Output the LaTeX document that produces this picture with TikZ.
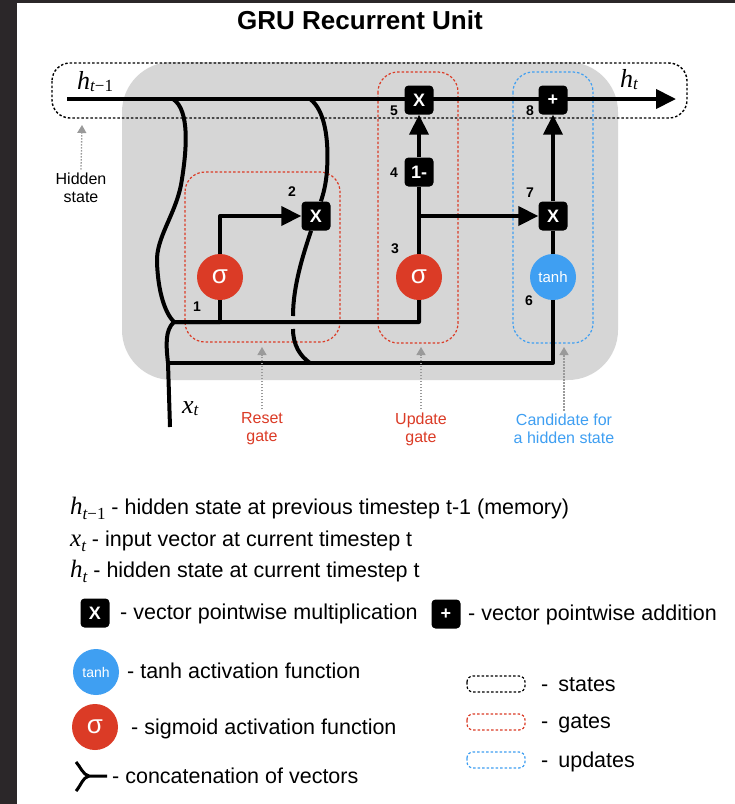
\documentclass[tikz,border=0pt]{standalone}
\usepackage{fontspec}
\setmainfont{Liberation Sans}
\newfontfamily\tms{Liberation Serif}
\usetikzlibrary{arrows.meta}
\pgfdeclarelayer{back}
\pgfdeclarelayer{wires}
\pgfsetlayers{back,wires,main}
\definecolor{framedark}{HTML}{2B2729}
\definecolor{unitgray}{HTML}{D6D6D6}
\definecolor{sigred}{HTML}{DB3B26}
\definecolor{tanhblue}{HTML}{3F9FF2}
\definecolor{guidegray}{HTML}{9A9A9A}
% italic serif symbol with a subscript: #1 size, #2 symbol, #3 subscript size, #4 subscript
\newcommand\symsub[4]{{\fontsize{#1}{#1}\selectfont\tms\itshape #2}\raisebox{-0.25em}{\fontsize{#3}{#3}\selectfont\tms #4}}

\begin{document}
\begin{tikzpicture}[x=1pt,y=-1pt,
  flow/.style={line width=4pt, line join=round},
  tip/.style={-{Triangle[length=20pt,width=19pt]}},
  opbox/.style={fill=black, rounded corners=4pt, minimum width=29pt, minimum height=29pt,
    inner sep=0pt, text=white, font=\fontsize{18}{18}\selectfont\bfseries},
  sigm/.style={circle, fill=sigred, minimum size=46pt, inner sep=0pt, text=white,
    font=\fontsize{26}{26}\selectfont},
  tanhc/.style={circle, fill=tanhblue, minimum size=46pt, inner sep=0pt, text=white,
    font=\fontsize{15}{15}\selectfont},
  stepnum/.style={font=\fontsize{14}{14}\selectfont\bfseries, inner sep=0pt},
  statebox/.style={draw=black, dash pattern=on 2.5pt off 2pt, line width=1.4pt, rounded corners=18pt},
  gatebox/.style={draw=sigred, dash pattern=on 2.5pt off 2pt, line width=1.2pt, rounded corners=20pt},
  updbox/.style={draw=tanhblue, dash pattern=on 2.5pt off 2pt, line width=1.2pt, rounded corners=20pt},
  guide/.style={draw=guidegray, dash pattern=on 1.5pt off 1.5pt, line width=1.3pt,
    -{Triangle[length=8pt,width=9pt,fill=guidegray]}},
  note/.style={font=\fontsize{16}{18}\selectfont, align=center},
  legend/.style={font=\fontsize{21.5}{24}\selectfont, anchor=base west, inner sep=0pt},
  mathlbl/.style={inner sep=0pt}
]
\useasboundingbox (0,0) rectangle (735,804);

% page, frame and unit background
\begin{pgfonlayer}{back}
  \fill[white] (0,0) rectangle (735,804);
  \fill[framedark] (0,0) rectangle (17,804);
  \fill[framedark] (0,0) rectangle (735,3);
  \fill[unitgray, rounded corners=50pt] (122,62) rectangle (618,380);
  \draw[statebox] (52,63) rectangle (687,118);
  \draw[gatebox] (185,172) rectangle (340,342);
  \draw[gatebox] (378,72) rectangle (458,343);
  \draw[updbox] (513,72) rectangle (593,343);
\end{pgfonlayer}

% title
\node[font=\fontsize{26}{26}\selectfont\bfseries] (title) at (360,20) {GRU Recurrent Unit};

% operations
\node[opbox] (m5) at (419,100) {X};
\node[opbox] (a8) at (553,100) {+};
\node[opbox] (om4) at (419,172) {1-};
\node[opbox] (m2) at (316,216) {X};
\node[opbox] (m7) at (553,216) {X};
\node[sigm] (s1) at (220,277) {σ};
\node[sigm] (s3) at (419,277) {σ};
\node[tanhc] (th) at (553,277) {tanh};

% wire end points
\coordinate (hin) at (67,99);
\coordinate (hout) at (676,99);
\coordinate (c1top) at (173,99);
\coordinate (c2top) at (310,99);
\coordinate (cat) at (174,322);
\coordinate (xin) at (170,427);
\coordinate (xsplit) at (168,363);
\coordinate (k1) at (220,322);
\coordinate (k3) at (419,322);
\coordinate (kt) at (553,363);
\coordinate (u7) at (419,216);
\coordinate (gapA) at (293,316);
\coordinate (gapB) at (293,329);
\coordinate (rlow) at (310,363);

\begin{pgfonlayer}{wires}
  % hidden state path
  \draw[flow, tip] (hin) -- (hout);
  % h_{t-1} branch into the concatenation with x_t
  \draw[flow] (c1top) .. controls (190,110) and (187,150) .. (181,185)
    .. controls (175,215) and (156,238) .. (157,262)
    .. controls (158,292) and (165,313) .. (cat) -- (k3) -- (s3);
  \draw[flow] (xin) -- (xsplit) .. controls (166,345) and (165,330) .. (cat) -- (k1);
  \draw[flow] (k1) -- (s1);
  % reset gate
  \draw[flow, tip] (s1) |- (m2);
  \draw[flow] (c2top) .. controls (325,110) and (329,140) .. (327,170)
    .. controls (326,185) and (323,195) .. (m2);
  \draw[flow] (m2) .. controls (304,252) and (293,285) .. (gapA);
  \draw[flow] (gapB) .. controls (293,345) and (300,356) .. (rlow);
  % candidate input
  \draw[flow] (xsplit) -- (kt) -- (th);
  % update gate
  \draw[flow] (s3) -- (om4);
  \draw[flow, tip] (om4) -- (m5);
  \draw[flow, tip] (u7) -- (m7);
  \draw[flow] (th) -- (m7);
  \draw[flow, tip] (m7) -- (a8);
\end{pgfonlayer}

% step numbers
\node[stepnum] (n1) at (197,307) {1};
\node[stepnum] (n2) at (292,192) {2};
\node[stepnum] (n3) at (395,249) {3};
\node[stepnum] (n4) at (394,173) {4};
\node[stepnum] (n5) at (394,111) {5};
\node[stepnum] (n6) at (529,301) {6};
\node[stepnum] (n7) at (530,193) {7};
\node[stepnum] (n8) at (530,111) {8};

% state labels
\node[mathlbl, anchor=base west] (lhprev) at (77,89) {\symsub{26}{h}{17}{\itshape t\upshape −1}};
\node[mathlbl, anchor=base west] (lhnext) at (620,87) {\symsub{26}{h}{17}{\itshape t}};
\node[mathlbl, anchor=base west] (lx) at (182,413) {\symsub{26}{x}{17}{\itshape t}};

% annotations
\node[note] (hs) at (81,188) {Hidden\\state};
\node[note, text=sigred] (rg) at (262,429) {Reset\\gate};
\node[note, text=sigred] (ug) at (421,429) {Update\\gate};
\node[note, text=tanhblue] (cg) at (564,429) {Candidate for\\a hidden state};
\draw[guide] (hs.north) -- (82,125);
\draw[guide] (rg.north) -- (262,347);
\draw[guide] (ug.north) -- (421,347);
\draw[guide] (cg.north) -- (564,347);

% legend
\node[legend] (l1) at (70,514) {\symsub{25}{h}{17}{\itshape t\upshape −1} - hidden state at previous timestep t-1 (memory)};
\node[legend] (l2) at (70,546) {\symsub{25}{x}{17}{\itshape t} - input vector at current timestep t};
\node[legend] (l3) at (70,577) {\symsub{25}{h}{17}{\itshape t} - hidden state at current timestep t};
\node[opbox] (lgx) at (95,613) {X};
\node[legend] (l4) at (120,619) {- vector pointwise multiplication};
\node[opbox] (lga) at (446,614) {+};
\node[legend] (l5) at (468,620) {- vector pointwise addition};
\node[tanhc, font=\fontsize{14}{14}\selectfont] (lgt) at (96,672) {tanh};
\node[legend] (l6) at (127,678) {- tanh activation function};
\node[sigm] (lgs) at (95,727) {σ};
\node[legend] (l7) at (131,734) {- sigmoid activation function};
\coordinate (lcu) at (76,762);
\coordinate (lcl) at (76,791);
\coordinate (lcj) at (89,776);
\coordinate (lce) at (107,776);
\draw[line width=3pt, line join=round] (lcu) .. controls (80,766) and (83,775) .. (lcj) -- (lce);
\draw[line width=3pt] (lcl) .. controls (80,787) and (83,777) .. (lcj);
\node[legend] (l8) at (112,783) {- concatenation of vectors};

\draw[statebox, rounded corners=6pt, line width=1.2pt] (467,676) rectangle (525,692);
\draw[gatebox, rounded corners=6pt] (467,714) rectangle (525,730);
\draw[updbox, rounded corners=6pt] (467,752) rectangle (525,768);
\node[legend] (l9) at (541,691) {-\hspace{10pt}states};
\node[legend] (l10) at (541,728) {-\hspace{10pt}gates};
\node[legend] (l11) at (541,767) {-\hspace{10pt}updates};
\end{tikzpicture}
\end{document}
